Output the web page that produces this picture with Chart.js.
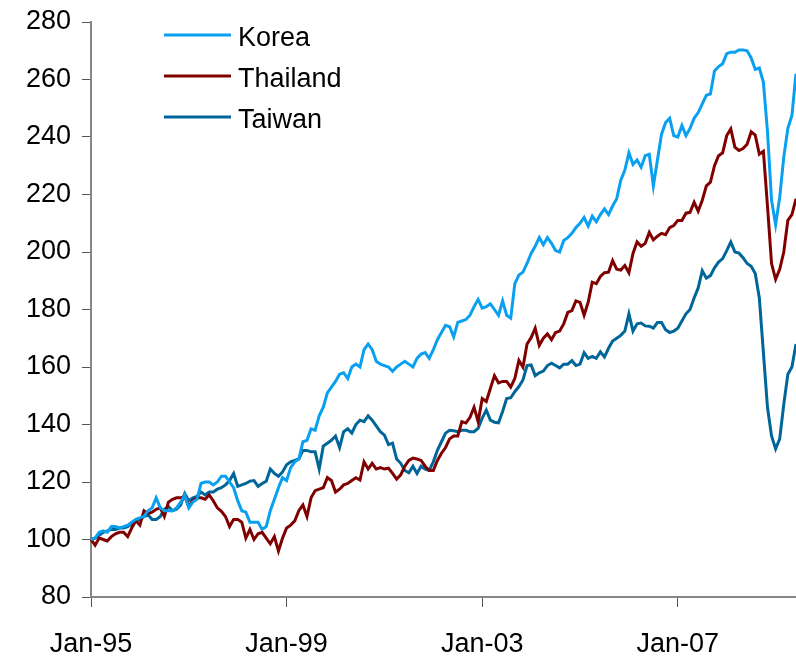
<!DOCTYPE html>
<html>
<head>
<meta charset="utf-8">
<script src="https://cdn.jsdelivr.net/npm/chart.js@4.4.1/dist/chart.umd.min.js"></script>
<style>
  html, body { margin: 0; padding: 0; background: #fff; }
  canvas { display: block; }
</style>
</head>
<body>
<canvas id="chart" width="796" height="657"></canvas>
<script>
// monthly index levels, Jan-95 = 100, Jan-95 .. Jun-09
const seriesNames = ["Korea", "Thailand", "Taiwan"];

const korea = [
  100, 100.5, 102.5, 103, 102.5, 104.5, 104.5, 104, 104.5, 105, 106, 107,
  107.5, 108, 110, 111, 114.5, 111, 110, 110, 110, 111, 113, 115.5,
  111, 113, 114, 119.5, 120, 120, 119, 120, 122, 122, 120, 118,
  113.5, 110, 109.5, 106, 106, 106, 103.5, 104.5, 110, 114, 118, 121.5,
  120.5, 125, 127, 128, 134, 134.5, 138.5, 138, 143, 146, 151, 153,
  155, 157.5, 158, 156, 160, 161, 160, 166, 168, 166, 162, 161,
  160.5, 160, 158.5, 160, 161, 162, 161, 160, 163, 164.5, 165, 163,
  166, 169.5, 172, 174.5, 174, 170.5, 175.5, 176, 176.5, 178, 181, 183.5,
  180.5, 181, 182, 180, 178, 183, 178, 177, 189, 192, 193, 196,
  199.5, 202, 205, 202.5, 205, 203, 200.5, 200, 204, 205, 206.5, 208.5,
  210, 212, 209, 212.5, 210.5, 213, 215, 213, 216, 218.5, 225, 228.5,
  234.5, 230.5, 232, 229.5, 233.5, 234, 223, 232, 241, 245, 246.5, 240.5,
  240, 244, 240.5, 243, 246.5, 248.5, 251.5, 254.5, 255, 263, 264.5, 265.5,
  269, 269.5, 269.5, 270.3, 270.3, 270, 267.5, 263.5, 264, 259, 242, 218,
  209.5, 219, 233, 243, 247.5, 262
];

const thailand = [
  100, 98, 100.5, 100, 99.5, 101, 102, 102.5, 102.5, 101, 104, 106.5,
  105, 110, 109, 109.5, 110.5, 111, 108, 113, 114, 114.5, 114.5, 115,
  111.5, 113.5, 114.5, 114.5, 114, 115.5, 113.5, 111, 109.8, 108, 104.5, 107,
  107, 106, 100.5, 103.5, 100, 102, 102.5, 100.5, 98.5, 101, 96, 100.5,
  104, 105, 106.5, 110, 112, 108, 114.5, 117, 117.5, 118, 121.5, 120.5,
  116.5, 117.5, 119, 119.5, 120.5, 121.5, 120.7, 127, 124.5, 126.5, 124.5, 125,
  124.5, 124.8, 123, 121, 122.5, 125.5, 127.5, 128.3, 128, 127.5, 125.5, 124,
  124, 127.5, 130, 132, 135, 136, 136, 141, 140.5, 142.5, 146, 141,
  149, 148, 152.5, 157, 154.5, 155, 155, 153, 156, 162.3, 160, 168,
  170.2, 173.5, 167.5, 170, 171.5, 169.5, 172, 172.5, 175, 179, 179.6, 183,
  182.5, 178, 182.5, 189.5, 189, 191.5, 192.8, 193, 197, 194, 193.7, 195.3,
  192.8, 199.5, 203.5, 202, 203, 206.8, 204.2, 205.5, 206.5, 206, 208.5, 209.2,
  211, 211, 213.5, 213.8, 217.3, 214.2, 218, 223, 224.3, 230, 233.5, 234.5,
  240.5, 242.8, 236.5, 235.3, 236, 237.5, 241.8, 240.7, 234, 235, 216, 196,
  190.5, 194, 200, 211, 213, 218.5
];

const taiwan = [
  100, 100.5, 101.5, 102.5, 103, 103.5, 103.5, 104, 104, 104.5, 105.5, 106.5,
  107, 108, 108.5, 107, 107, 108, 110.5, 111.5, 110, 110.5, 112, 116,
  113.5, 114.5, 115, 116.5, 115.5, 116.5, 116.5, 117.5, 118, 119, 120.5, 123,
  118.5, 119, 119.5, 120.3, 120.5, 118.5, 119.5, 120.3, 124.5, 123, 122, 123.5,
  126, 127, 127.5, 128, 131, 131, 130.5, 130.5, 124.5, 132.5, 133.5, 134.5,
  136, 132, 137.5, 138.5, 137, 140, 141.5, 141, 143, 141.5, 139.5, 137.5,
  136.3, 133, 133.5, 128, 126.5, 124, 123.2, 125.5, 123, 125.5, 124.5, 124,
  127, 131, 134, 137, 138, 137.8, 137.5, 138, 138, 137.5, 137.5, 138.7,
  142.2, 145, 141.5, 140.8, 140.6, 144.5, 149, 149.3, 151.4, 153.2, 155.5, 160.5,
  160.7, 157, 158, 158.6, 160.5, 161.3, 160.5, 159.7, 161, 161, 162.2, 160.5,
  161, 165, 163, 163.7, 163, 165.3, 163.5, 166.5, 169, 170, 171, 172.5,
  178.5, 172.5, 175, 175.3, 174.3, 174.2, 173.5, 175.5, 175.5, 173, 172, 172.5,
  173.5, 176, 178.5, 180, 184, 187.5, 193.5, 190.9, 191.8, 194.5, 196.5, 197.7,
  200.5, 203.5, 200, 199.6, 198, 196, 195, 192.5, 184, 165, 146, 136,
  131.5, 135, 147, 157.5, 160, 168
];

const monthNames = ["Jan", "Feb", "Mar", "Apr", "May", "Jun",
                    "Jul", "Aug", "Sep", "Oct", "Nov", "Dec"];
const firstYear = 1995;
const labelEvery = 48; // Jan-95, Jan-99, Jan-03, Jan-07

const months = korea.map((_, i) => {
  const y = firstYear + Math.floor(i / 12);
  return monthNames[i % 12] + "-" + String(y).slice(2);
});

const colors = ["#0AA0F0", "#800000", "#006699"];
const font = "'Liberation Sans', Arial, sans-serif";
const fontSize = 27;

// legend sits inside the plot, top left
const insideLegend = {
  id: "insideLegend",
  afterDraw(chart) {
    const ctx = chart.ctx;
    ctx.save();
    ctx.font = fontSize + "px " + font;
    ctx.textBaseline = "middle";
    ctx.fillStyle = "#000";
    chart.data.datasets.forEach((ds, i) => {
      const y = 35 + i * 41;
      ctx.strokeStyle = ds.borderColor;
      ctx.lineWidth = 3;
      ctx.beginPath();
      ctx.moveTo(164, y);
      ctx.lineTo(231, y);
      ctx.stroke();
      ctx.fillText(ds.label, 238, y + 4);
    });
    ctx.restore();
  }
};

new Chart(document.getElementById("chart"), {
  type: "line",
  data: {
    labels: months,
    datasets: [
      { label: seriesNames[0], data: korea, borderColor: colors[0] },
      { label: seriesNames[1], data: thailand, borderColor: colors[1] },
      { label: seriesNames[2], data: taiwan, borderColor: colors[2] }
    ]
  },
  options: {
    responsive: false,
    animation: false,
    devicePixelRatio: 1,
    layout: { padding: { top: 22, right: 0, bottom: 0, left: 0 } },
    elements: {
      line: { borderWidth: 3, tension: 0, fill: false },
      point: { radius: 0 }
    },
    plugins: {
      legend: { display: false },
      tooltip: { enabled: false }
    },
    scales: {
      x: {
        offset: false,
        afterFit(scale) { scale.height = 60; },
        border: { display: true, color: "#868686", width: 2 },
        grid: {
          drawOnChartArea: false,
          drawTicks: true,
          tickLength: 10,
          color: "#555",
          lineWidth: 1
        },
        ticks: {
          autoSkip: false,
          maxRotation: 0,
          minRotation: 0,
          padding: 21,
          color: "#000",
          font: { family: font, size: fontSize },
          callback: (v, i) => (i % labelEvery === 0 ? months[i] : null)
        }
      },
      y: {
        min: 80,
        max: 280,
        afterFit(scale) { scale.width = 91; },
        border: { display: true, color: "#868686", width: 2 },
        grid: {
          drawOnChartArea: false,
          drawTicks: true,
          tickLength: 9,
          color: "#555",
          lineWidth: 1
        },
        ticks: {
          stepSize: 20,
          padding: 11,
          color: "#000",
          // small line height keeps the top label from pushing the plot down
          font: { family: font, size: fontSize, lineHeight: 0.4 }
        }
      }
    }
  },
  plugins: [insideLegend]
});
</script>
</body>
</html>
